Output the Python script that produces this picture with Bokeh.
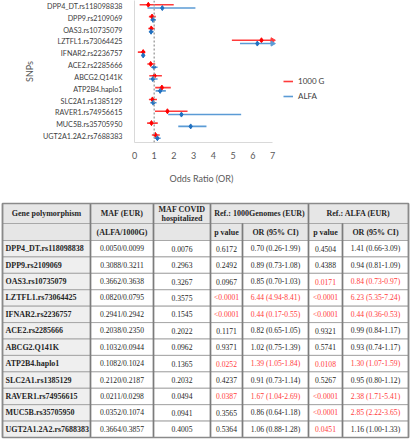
import math
from bokeh.plotting import figure
from bokeh.models import (FactorRange, Range1d, ColumnDataSource, Span, Legend,
                          LegendItem, FixedTicker, Title)
from bokeh.transform import dodge
from bokeh.core.properties import value
from bokeh.embed import file_html
from bokeh.resources import INLINE

# ---------------- data ----------------
snps = ["DPP4_DT.rs118098838", "DPP9.rs2109069", "OAS3.rs10735079", "LZTFL1.rs73064425",
        "IFNAR2.rs2236757", "ACE2.rs2285666", "ABCG2.Q141K", "ATP2B4.haplo1",
        "SLC2A1.rs1385129", "RAVER1.rs74956615", "MUC5B.rs35705950", "UGT2A1.2A2.rs7688383"]
maf_eur = ["0.0050/0.0099", "0.3088/0.3211", "0.3662/0.3638", "0.0820/0.0795", "0.2941/0.2942",
           "0.2038/0.2350", "0.1032/0.0944", "0.1082/0.1024", "0.2120/0.2187", "0.0211/0.0298",
           "0.0352/0.1074", "0.3664/0.3857"]
maf_covid = ["0.0076", "0.2963", "0.3267", "0.3575", "0.1545", "0.2022", "0.0962", "0.1365",
             "0.2032", "0.0494", "0.0941", "0.4005"]
p_1000g = ["0.6172", "0.2492", "0.0967", "<0.0001", "<0.0001", "0.1171", "0.9371", "0.0252",
           "0.4237", "0.0387", "0.3565", "0.5364"]
or_1000g = [0.70, 0.89, 0.85, 6.44, 0.44, 0.82, 1.02, 1.39, 0.91, 1.67, 0.86, 1.06]
lo_1000g = [0.26, 0.73, 0.70, 4.94, 0.17, 0.65, 0.75, 1.05, 0.73, 1.04, 0.64, 0.88]
hi_1000g = [1.99, 1.08, 1.03, 8.41, 0.55, 1.05, 1.39, 1.84, 1.14, 2.69, 1.18, 1.28]
p_alfa = ["0.4504", "0.4388", "0.0171", "<0.0001", "<0.0001", "0.9321", "0.5741", "0.0108",
          "0.5267", "<0.0001", "<0.0001", "0.0451"]
or_alfa = [1.41, 0.94, 0.84, 6.23, 0.44, 0.99, 0.93, 1.30, 0.95, 2.38, 2.85, 1.16]
lo_alfa = [0.66, 0.81, 0.73, 5.35, 0.36, 0.84, 0.74, 1.07, 0.80, 1.71, 2.22, 1.00]
hi_alfa = [3.09, 1.09, 0.97, 7.24, 0.53, 1.17, 1.17, 1.59, 1.12, 5.41, 3.65, 1.33]
x_ticks = [0, 1, 2, 3, 4, 5, 6, 7]
series_names = ["1000 G", "ALFA"]

# ---------------- styles / layout ----------------
W = 410
RED_LINE, RED_DOT = "#ff3b3b", "#ff0000"
BLUE_LINE, BLUE_DOT = "#5b9bd5", "#2070c0"
SANS = "Lato"
SERIF = "Liberation Serif"
XMIN, XMAX = x_ticks[0], x_ticks[-1]
BORDER_L, BORDER_R = 134, 4
AXIS_PX = 138                      # pixel length of the 0..7 axis
FRAME_W = W - BORDER_L - BORDER_R  # frame also holds the legend area to the right
X_END = XMIN + (XMAX - XMIN) * FRAME_W / AXIS_PX

# ---------------- forest plot ----------------
fp = figure(width=W, height=197, y_range=FactorRange(*reversed(snps)),
            x_range=Range1d(XMIN, X_END), output_backend="svg", toolbar_location=None,
            min_border_left=BORDER_L, min_border_right=BORDER_R, min_border_top=0,
            min_border_bottom=55)
fp.outline_line_color = None
fp.grid.grid_line_color = None

fp.xaxis.ticker = FixedTicker(ticks=x_ticks)
fp.xaxis.bounds = (XMIN, XMAX)
fp.yaxis.axis_label = "SNPs"
for ax in (fp.xaxis, fp.yaxis):
    ax.axis_line_color = "#d9d9d9"
    ax.axis_line_width = 1
    ax.major_tick_line_color = None
    ax.minor_tick_line_color = None
    ax.major_label_text_font = SANS
    ax.axis_label_text_font = SANS
    ax.axis_label_text_font_style = "normal"
    ax.axis_label_text_color = "#595959"
fp.xaxis.major_label_text_font_size = "9px"
fp.xaxis.major_label_text_color = "#595959"
fp.xaxis.major_label_standoff = 3
fp.yaxis.major_label_text_font_size = "7.2px"
fp.yaxis.major_label_text_color = "#404040"
fp.yaxis.major_label_standoff = 6
fp.yaxis.axis_label_text_font_size = "9px"
fp.yaxis.axis_label_standoff = 5

# x-axis title, centred under the 0..7 axis (not under the whole frame)
fp.add_layout(Title(text="Odds Ratio (OR)", align="left", offset=35, vertical_align="middle",
                    standoff=20, text_font=SANS, text_font_size="9px",
                    text_font_style="normal", text_color="#595959"), "below")

fp.add_layout(Span(location=1, dimension="height", line_color="#a6a6a6",
                   line_dash="2 2", line_width=1.5))

def clip(v):
    return [min(x, XMAX) for x in v]

src_g = ColumnDataSource(dict(snp=snps, orv=or_1000g, lo=lo_1000g, hi=clip(hi_1000g)))
src_a = ColumnDataSource(dict(snp=snps, orv=or_alfa, lo=lo_alfa, hi=clip(hi_alfa)))
OFF = 0.14
seg_g = fp.segment(x0="lo", x1="hi", y0=dodge("snp", OFF, range=fp.y_range),
                   y1=dodge("snp", OFF, range=fp.y_range), source=src_g,
                   line_color=RED_LINE, line_width=1.6)
fp.scatter(x="orv", y=dodge("snp", OFF, range=fp.y_range), source=src_g, marker="diamond",
           size=5, fill_color=RED_DOT, line_color=RED_DOT)
seg_a = fp.segment(x0="lo", x1="hi", y0=dodge("snp", -OFF, range=fp.y_range),
                   y1=dodge("snp", -OFF, range=fp.y_range), source=src_a,
                   line_color=BLUE_LINE, line_width=1.6)
fp.scatter(x="orv", y=dodge("snp", -OFF, range=fp.y_range), source=src_a, marker="diamond",
           size=5, fill_color=BLUE_DOT, line_color=BLUE_DOT)

# arrow heads for intervals that run past the axis end
for hi_l, off, col in ((hi_1000g, OFF, RED_LINE), (hi_alfa, -OFF, BLUE_LINE)):
    clipped = [s for s, h in zip(snps, hi_l) if h > XMAX]
    if clipped:
        cs = ColumnDataSource(dict(snp=clipped, x=[XMAX] * len(clipped)))
        fp.scatter(x="x", y=dodge("snp", off, range=fp.y_range), source=cs, marker="triangle",
                   angle=-math.pi / 2, size=5, fill_color=col, line_color=col)

legend = Legend(items=[LegendItem(label=series_names[0], renderers=[seg_g]),
                       LegendItem(label=series_names[1], renderers=[seg_a])],
                location=(AXIS_PX + 11, 40), padding=0, margin=0, spacing=3,
                glyph_height=12, label_height=12, glyph_width=10, label_standoff=5,
                label_text_font=SANS, label_text_font_size="8px",
                label_text_color="#404040", border_line_color=None,
                background_fill_alpha=0)
fp.add_layout(legend)

# ---------------- table ----------------
col_x = [2, 90, 153, 210, 242, 308, 342, 408]
H1_TOP, H1_BOT, H2_BOT, TBL_BOT = 203, 223, 240, 437
n = len(snps)
row_h = (TBL_BOT - H2_BOT) / n

tp = figure(width=W, height=243, x_range=Range1d(0, 410), y_range=Range1d(440, 197),
            output_backend="svg", toolbar_location=None,
            min_border_left=0, min_border_right=0, min_border_top=0, min_border_bottom=0,
            x_axis_type=None, y_axis_type=None)
tp.outline_line_color = None
tp.grid.grid_line_color = None

HDR_BG, GENE_BG, CELL_BG = "#e6e6e6", "#efefef", "#ffffff"
BORDER_H, BORDER_V = "#a8a8a8", "#7c7c7c"
BLACK, REDTXT = "#262626", "#ff3b3b"

q = dict(left=[], right=[], top=[], bottom=[], fill=[])
def cell(l, r, t, b, f):
    q["left"].append(l); q["right"].append(r); q["top"].append(t); q["bottom"].append(b)
    q["fill"].append(f)

hdr = dict(x=[], y=[], text=[])
def htext(x, y, t):
    hdr["x"].append(x); hdr["y"].append(y); hdr["text"].append(t)

spans1 = [(0, 1, ["Gene polymorphism"]), (1, 2, ["MAF (EUR)"]),
          (2, 3, ["MAF COVID", "hospitalized"]), (3, 5, ["Ref.: 1000Genomes (EUR)"]),
          (5, 7, ["Ref.: ALFA (EUR)"])]
for a, b, lines in spans1:
    cell(col_x[a], col_x[b], H1_TOP, H1_BOT, HDR_BG)
    cx = (col_x[a] + col_x[b]) / 2
    cy = (H1_TOP + H1_BOT) / 2
    if len(lines) == 1:
        htext(cx, cy, lines[0])
    else:
        htext(cx, cy - 4.5, lines[0]); htext(cx, cy + 4.5, lines[1])
labels2 = ["", "(ALFA/1000G)", "", "p value", "OR (95% CI)", "p value", "OR (95% CI)"]
for i, t in enumerate(labels2):
    cell(col_x[i], col_x[i + 1], H1_BOT, H2_BOT, HDR_BG)
    if t:
        htext((col_x[i] + col_x[i + 1]) / 2, (H1_BOT + H2_BOT) / 2, t)

gene = dict(x=[], y=[], text=[])
dat = dict(x=[], y=[], text=[], color=[])
def fmt_or(o, l, h):
    return f"{o:.2f} ({l:.2f}-{h:.2f})"
def p_sig(p):
    return p.startswith("<") or float(p) < 0.05
for r in range(n):
    top = H2_BOT + r * row_h
    bot = top + row_h
    cy = (top + bot) / 2
    cell(col_x[0], col_x[1], top, bot, GENE_BG)
    gene["x"].append(col_x[0] + 3); gene["y"].append(cy); gene["text"].append(snps[r])
    or_g_sig = lo_1000g[r] > 1 or hi_1000g[r] < 1
    or_a_sig = lo_alfa[r] > 1 or hi_alfa[r] < 1
    vals = [(maf_eur[r], False), (maf_covid[r], False),
            (p_1000g[r], p_sig(p_1000g[r])), (fmt_or(or_1000g[r], lo_1000g[r], hi_1000g[r]), or_g_sig),
            (p_alfa[r], p_sig(p_alfa[r])), (fmt_or(or_alfa[r], lo_alfa[r], hi_alfa[r]), or_a_sig)]
    for j, (t, red) in enumerate(vals, start=1):
        cell(col_x[j], col_x[j + 1], top, bot, CELL_BG)
        dat["x"].append((col_x[j] + col_x[j + 1]) / 2); dat["y"].append(cy)
        dat["text"].append(t); dat["color"].append(REDTXT if red else BLACK)

tp.quad(left="left", right="right", top="top", bottom="bottom", fill_color="fill",
        line_color=BORDER_H, line_width=1, source=ColumnDataSource(q))
vx, vt, vb = [], [], []
for l, r, t, b in zip(q["left"], q["right"], q["top"], q["bottom"]):
    for xx in (l, r):
        vx.append(xx); vt.append(t); vb.append(b)
tp.segment(x0=vx, x1=vx, y0=vt, y1=vb, line_color=BORDER_V, line_width=1.4)
tp.quad(left=[col_x[0]], right=[col_x[-1]], top=[H1_TOP], bottom=[TBL_BOT],
        fill_color=None, line_color="#8a8a8a", line_width=1.5)

tp.text(x="x", y="y", text="text", source=ColumnDataSource(hdr), text_font=value(SERIF),
        text_font_style="bold", text_font_size="8px", text_align="center",
        text_baseline="middle", text_color=BLACK)
tp.text(x="x", y="y", text="text", source=ColumnDataSource(gene), text_font=value(SERIF),
        text_font_style="bold", text_font_size="8px", text_align="left",
        text_baseline="middle", text_color=BLACK)
tp.text(x="x", y="y", text="text", source=ColumnDataSource(dat), text_font=value(SERIF),
        text_font_size="7.6px", text_align="center", text_baseline="middle",
        text_color="color")

# two independent roots, stacked: keeps each figure's own frame geometry
open("out.html", "w").write(file_html([fp, tp], INLINE))
